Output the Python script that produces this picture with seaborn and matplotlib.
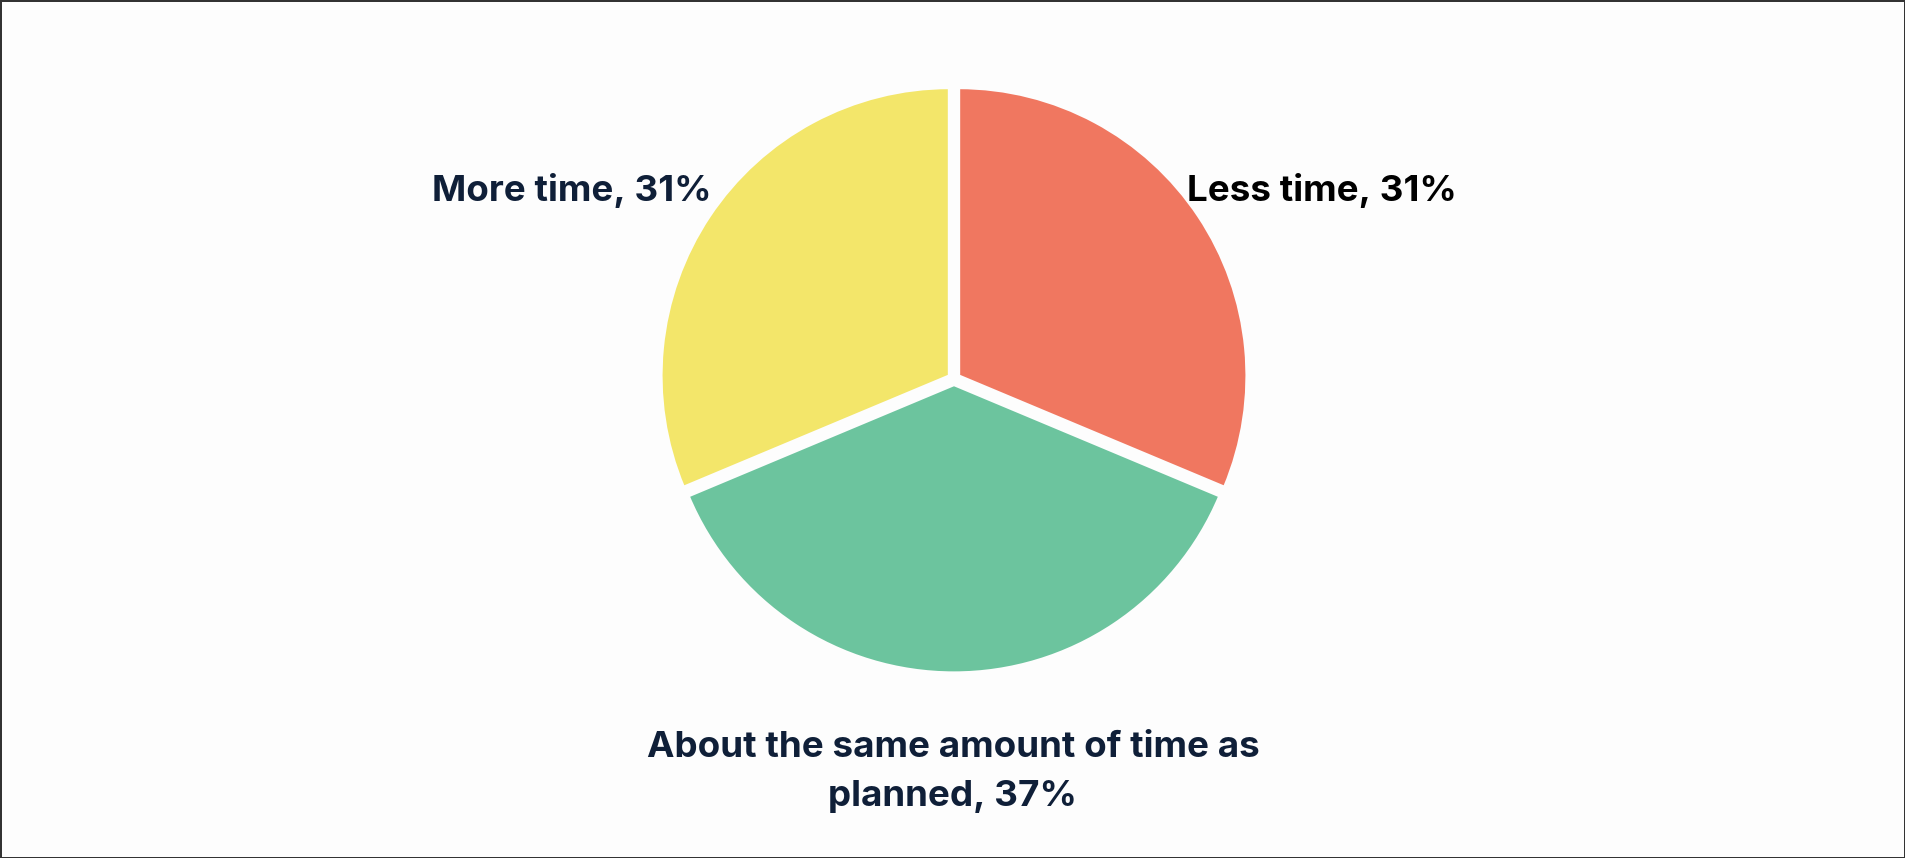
import matplotlib
matplotlib.use("Agg")
import matplotlib.pyplot as plt
import seaborn as sns

categories = ["Less time", "About the same amount of time as\nplanned", "More time"]
values = [31, 37, 31]
colors = ["#F07760", "#6CC49E", "#F3E66A"]

sns.set_theme(style="white")
plt.rcParams['font.family'] = ['Inter', 'DejaVu Sans']

W, H = 1905, 858
fig = plt.figure(figsize=(W / 100, H / 100), dpi=100, facecolor="#FDFDFD")
fig.patch.set_edgecolor("#333333")
fig.patch.set_linewidth(2)

cx, cy, r = 954, 379, 288
ax = fig.add_axes([(cx - r) / W, (H - cy - r) / H, 2 * r / W, 2 * r / H])
ax.set_facecolor("#FDFDFD")
ax.pie(values, colors=colors, startangle=90, counterclock=False,
       explode=[0.02, 0.02, 0.02],
       wedgeprops=dict(edgecolor="#FDFDFD", linewidth=2))
ax.set_xlim(-1.0, 1.0)
ax.set_ylim(-1.0, 1.0)
ax.set_aspect("equal")
ax.axis("off")

def lbl(name, v):
    return f"{name}, {v}%"

fig.text(1322 / W, 1 - 191 / H, lbl(categories[0], values[0]), ha="center", va="center",
         fontsize=26.5, fontweight="bold", color="#000000")
fig.text(572 / W, 1 - 191 / H, lbl(categories[2], values[2]), ha="center", va="center",
         fontsize=26.5, fontweight="bold", color="#0F1F38")
fig.text(953 / W, 1 - 772 / H, lbl(categories[1], values[1]), ha="center", va="center",
         fontsize=26.5, fontweight="bold", color="#0F1F38", linespacing=1.6)

fig.savefig("out.png", dpi=100, facecolor=fig.get_facecolor(), edgecolor=fig.patch.get_edgecolor())
